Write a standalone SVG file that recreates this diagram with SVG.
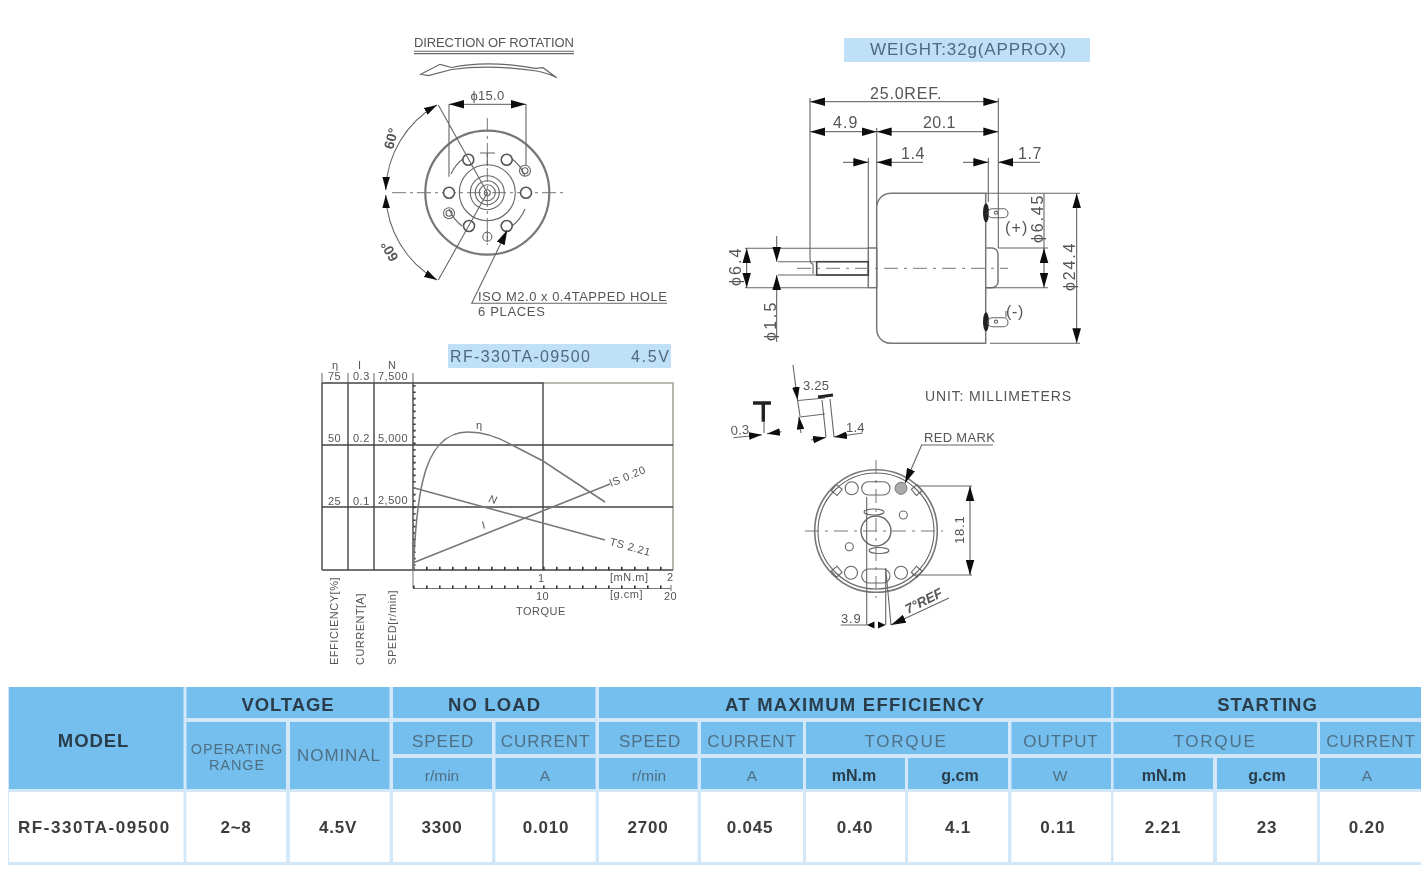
<svg xmlns="http://www.w3.org/2000/svg" width="1421" height="869" viewBox="0 0 1421 869">
<style>
text{font-family:"Liberation Sans",Arial,sans-serif;fill:#555}
.d{fill:none;stroke:#666;stroke-width:1.1}
.b{fill:none;stroke:#444;stroke-width:1.6}
.g{fill:none;stroke:#777;stroke-width:1.5}
.a{fill:none;stroke:#555;stroke-width:1;marker-end:url(#ar)}
.aa{fill:none;stroke:#555;stroke-width:1;marker-start:url(#ar);marker-end:url(#ar)}
.c{fill:none;stroke:#777;stroke-width:1;stroke-dasharray:18 5 3 5}
.l{font-size:16px;letter-spacing:.6px}
.s{font-size:11px;letter-spacing:.5px;fill:#555}
.t{font-size:13px;letter-spacing:.2px}
.h{fill:#74bfee}
.w{fill:#fff}
.th{font-size:18.5px;font-weight:bold;fill:#2b3d4b;text-anchor:middle;letter-spacing:.9px}
.tm{font-size:17px;fill:#4f6f84;text-anchor:middle;letter-spacing:.9px}
.tu{font-size:15.5px;fill:#4f6f84;text-anchor:middle}
.tb{font-size:16px;font-weight:bold;fill:#2b3d4b;text-anchor:middle}
.td{font-size:17px;font-weight:bold;fill:#3c3c3c;text-anchor:middle;letter-spacing:.8px}
.bx{fill:#bfe0f7}
</style>
<defs>
<marker id="ar" markerUnits="userSpaceOnUse" markerWidth="16" markerHeight="9" refX="15" refY="4.5" orient="auto-start-reverse"><polygon points="0,0.2 15,4.5 0,8.8" fill="#111"/></marker>
<marker id="as" markerUnits="userSpaceOnUse" markerWidth="14" markerHeight="8" refX="13" refY="4" orient="auto-start-reverse"><polygon points="0,0.2 13,4 0,7.8" fill="#111"/></marker>
<filter id="bl" x="0" y="0" width="100%" height="100%"><feGaussianBlur stdDeviation="0.55"/></filter>
</defs>
<rect width="1421" height="869" fill="#fff"/>
<g filter="url(#bl)">

<g id="front-view">
<text x="414" y="47" class="t" textLength="160">DIRECTION OF ROTATION</text>
<path class="d" d="M414 51.2H574M414 53.6H574"/>
<path d="M420.7 74.3L440 64.3L451.7 67.5Q487 60 535 68.3L543 67.7L556.7 77.7Q548 73 536.7 71Q490 64 451.7 69.5L428.3 75.7Z" fill="#fff" stroke="#666" stroke-width="1.2"/>
<circle cx="487.3" cy="192.7" r="62" class="g" style="stroke-width:2.2"/>
<path class="c" d="M392 192.7H564M487.3 118V245" style="stroke-dasharray:14 4 3 4"/>
<g class="d">
<circle cx="487.3" cy="192.7" r="17"/><circle cx="487.3" cy="192.7" r="12"/><circle cx="487.3" cy="192.7" r="8"/><circle cx="487.3" cy="192.7" r="3"/>
<circle cx="487.3" cy="192.7" r="28"/>
<path d="M451 174A41 41 0 0 1 464 158M511 158A41 41 0 0 1 525 176M525 209A41 41 0 0 1 512 226M462 226A41 41 0 0 1 449 209"/>
<path d="M487.3 153V166M480 153H495"/>
</g>
<g style="fill:#fff;stroke:#555;stroke-width:1.6">
<circle cx="468.3" cy="159.7" r="5.5"/><circle cx="506.7" cy="159.7" r="5.5"/><circle cx="449" cy="192.7" r="5.5"/><circle cx="526" cy="192.7" r="5.5"/><circle cx="469" cy="226" r="5.5"/><circle cx="506.7" cy="226" r="5.5"/>
</g>
<g class="d"><circle cx="525" cy="170.7" r="5.5"/><circle cx="525" cy="170.7" r="3"/><circle cx="449" cy="213.3" r="5.5"/><circle cx="449" cy="213.3" r="3"/><circle cx="487.3" cy="236.7" r="4.5"/><path d="M487.3 231V242"/></g>
<path class="d" d="M449 104.3V176.7M526 104.3V165M438.3 105L487.3 192.7L438.3 280"/>
<path class="aa" d="M449 104.3H526"/>
<text x="487.5" y="100" text-anchor="middle" font-size="13" style="letter-spacing:.3px">ϕ15.0</text>
<path d="M385.8 190A101 101 0 0 1 437 105" class="d" marker-start="url(#as)" marker-end="url(#as)"/>
<path d="M385.8 195A101 101 0 0 0 437 280" class="d" marker-start="url(#as)" marker-end="url(#as)"/>
<text transform="translate(393,150) rotate(-75)" font-size="14" font-weight="bold">60°</text>
<text transform="translate(399,258) rotate(-120)" font-size="14" font-weight="bold">60°</text>
<path class="d" d="M667 303.3H471.7L507.3 230" marker-end="url(#ar)"/>
<text x="478" y="301" class="t" textLength="189">ISO M2.0 x 0.4TAPPED HOLE</text>
<text x="478" y="316" class="t" textLength="67">6 PLACES</text>
</g>

<g id="weight-label">
<rect x="844" y="38" width="246" height="24" class="bx"/>
<text x="870" y="55" font-size="17" textLength="196" style="fill:#4f6a80">WEIGHT:32g(APPROX)</text>
</g>

<g id="side-view">
<path class="g" d="M891 193.3H985.7V343.3H891A14 14 0 0 1 876.7 329V207A14 14 0 0 1 891 193.3Z"/>
<path class="g" d="M985.7 248H992A6 6 0 0 1 998 254V282A6 6 0 0 1 992 287.7H985.7"/>
<rect x="868.3" y="248" width="8.4" height="39.7" class="g"/>
<path class="d" d="M745 248.3H868M745 287.7H868M778 261.7H868M778 275H868"/>
<rect x="816.7" y="261.7" width="51.6" height="13.3" class="b"/>
<path class="c" d="M797 268.3H1008" style="stroke-dasharray:14 6 3 6"/>
<path class="d" d="M810 98V258Q810 264 813 264V274M998.3 98V248M876.7 128V205M868.3 158V248M988.3 158V202"/>
<path class="aa" d="M810 101.7H998.3"/>
<path class="aa" d="M810 131.7H876.7"/>
<path class="aa" d="M876.7 131.7H998.3"/>
<path class="a" d="M843 162.3H868.3"/><path class="a" d="M923 162.3H876.7"/>
<path class="a" d="M963 162.3H988.3"/><path class="a" d="M1040 162.3H998.3"/>
<path class="aa" d="M1076.7 193.3V343.3"/>
<path class="d" d="M985.7 193.3H1080M990 343.3H1080M998 248H1048M985.7 287.7H1048M1044 193.3V248"/>
<path class="aa" d="M1044 248V287.7"/>
<path class="aa" d="M746.7 248.3V287.7"/>
<path class="a" d="M776.7 236V261.7"/><path class="a" d="M776.7 342V275"/>
<g id="terminal-plus"><ellipse cx="986" cy="212.7" rx="3" ry="9.5" fill="#222"/><rect x="988" y="208.7" width="20" height="9" rx="4.5" class="d"/><circle cx="996" cy="212.7" r="1.6" class="d"/></g>
<g id="terminal-minus"><ellipse cx="986" cy="321.7" rx="3" ry="9.5" fill="#222"/><rect x="988" y="317.7" width="20" height="9" rx="4.5" class="d"/><circle cx="996" cy="321.7" r="1.6" class="d"/><path class="d" d="M1006 317V311"/></g>
<text x="870" y="99" class="l" textLength="72">25.0REF.</text>
<text x="833" y="128" class="l" textLength="25">4.9</text>
<text x="923" y="128" class="l" textLength="33">20.1</text>
<text x="901" y="159" class="l" textLength="24">1.4</text>
<text x="1018" y="159" class="l" textLength="24">1.7</text>
<text x="1005" y="233" class="l" textLength="23">(+)</text>
<text x="1006" y="317" class="l" textLength="18">(-)</text>
<text transform="translate(1043,243) rotate(-90)" class="l" textLength="48">ϕ6.45</text>
<text transform="translate(1075,291) rotate(-90)" class="l" textLength="48">ϕ24.4</text>
<text transform="translate(741,286) rotate(-90)" class="l" textLength="38">ϕ6.4</text>
<text transform="translate(776,341) rotate(-90)" class="l" textLength="39">ϕ1.5</text>
</g>

<g id="model-label">
<rect x="448" y="344" width="223" height="24" class="bx"/>
<text x="450" y="362" font-size="16" textLength="140" style="fill:#4f6a80">RF-330TA-09500</text>
<text x="631" y="362" font-size="16" textLength="38" style="fill:#4f6a80">4.5V</text>
</g>

<g id="chart">
<path d="M543 383H673V570" fill="none" stroke="#a9a49c" stroke-width="1.6"/>
<path d="M322 383V570M348 383V570M374 383V570M413 383V570M322 383H543V570M322 570H673M322 445H673M322 507H673" fill="none" stroke="#444" stroke-width="1.4"/>
<path d="M414.5 385V570" stroke="#333" stroke-width="2.2" stroke-dasharray="1.6 4.8" fill="none"/>
<path d="M413 588.5H671" stroke="#777" stroke-width="1.1" fill="none"/>
<path d="M413 570V588M671 585V591" stroke="#777" stroke-width="1" fill="none"/>
<path d="M413 568.5H672" stroke="#333" stroke-width="3.5" stroke-dasharray="1.6 11.4" fill="none"/>
<path d="M413 587H672" stroke="#333" stroke-width="3" stroke-dasharray="1.6 11.4" fill="none"/>
<path d="M322 373V383M348 373V383M374 373V383M413 373V383" stroke="#666" fill="none"/>
<path class="g" d="M413.3 570C415 530 418 500 423 480C430 450 445 432 468 432C490 432 505 441 512 445L543 461L605 502"/>
<path class="g" d="M413.3 487.7L605 540"/>
<path class="g" d="M413.3 562.7L610 484"/>
<text x="332" y="369" class="s">η</text><text x="358" y="369" class="s">I</text><text x="388" y="369" class="s">N</text>
<text x="328" y="380" class="s">75</text><text x="353" y="380" class="s">0.3</text><text x="378" y="380" class="s">7,500</text>
<text x="328" y="442" class="s">50</text><text x="353" y="442" class="s">0.2</text><text x="378" y="442" class="s">5,000</text>
<text x="328" y="505" class="s">25</text><text x="353" y="505" class="s">0.1</text><text x="378" y="504" class="s">2,500</text>
<text x="476" y="429" class="s">η</text>
<text transform="translate(488,502) rotate(15)" class="s" font-style="italic">N</text>
<text transform="translate(483,529) rotate(-15)" class="s">I</text>
<text transform="translate(611,487) rotate(-22)" class="s">IS 0.20</text>
<text transform="translate(609,545) rotate(15)" class="s">TS 2.21</text>
<text x="538" y="582" class="s">1</text><text x="610" y="581" class="s">[mN.m]</text><text x="667" y="581" class="s">2</text>
<text x="536" y="600" class="s">10</text><text x="610" y="598" class="s">[g.cm]</text><text x="664" y="600" class="s">20</text>
<text x="516" y="615" class="s">TORQUE</text>
<text transform="translate(338,665) rotate(-90)" class="s" textLength="88">EFFICIENCY[%]</text>
<text transform="translate(364,665) rotate(-90)" class="s" textLength="72">CURRENT[A]</text>
<text transform="translate(396,665) rotate(-90)" class="s" textLength="75">SPEED[r/min]</text>
</g>

<g id="detail-view">
<path d="M753 403H771M763.300 403V421.700" stroke="#222" stroke-width="3.4" fill="none"/>
<path class="d" d="M764 422V433"/>
<path d="M733.3 437.7L762 434.7" class="d" marker-end="url(#as)"/>
<path d="M781.7 431.7L767 433.7" class="d" marker-end="url(#as)"/>
<text transform="translate(731,435) rotate(-4)" class="t">0.3</text>
<path d="M793 365L797.5 400" class="d" marker-end="url(#as)"/>
<path d="M797.5 400L800 416" class="d"/>
<path d="M801 433L799 416.5" class="d" marker-end="url(#as)"/>
<path class="d" d="M798 400.5L825 398M800 417L825 414M822 400L826 437M830 399L834 437"/>
<path d="M818 397L833 395" stroke="#222" stroke-width="3.2" fill="none"/>
<path d="M811 440L826 437.5" class="d" marker-end="url(#as)"/>
<path d="M863 433L834 437" class="d" marker-end="url(#as)"/>
<text x="803" y="390" class="t">3.25</text>
<text x="846" y="432" class="t">1.4</text>
</g>

<g id="unit-label"><text x="925" y="401" font-size="14" textLength="146">UNIT: MILLIMETERS</text></g>

<g id="rear-view">
<circle cx="876" cy="531" r="61.3" class="g" style="stroke-width:1.6"/>
<circle cx="876" cy="531" r="58" class="d"/>
<path class="c" d="M805 531H943M876 460V598" style="stroke-dasharray:14 6 3 6"/>
<circle cx="876" cy="531" r="15" class="d" style="stroke-width:1.4"/>
<rect x="861.7" y="481.7" width="28.3" height="13.3" rx="6.6" class="d"/>
<rect x="861.7" y="569" width="28.3" height="14" rx="7" class="d"/>
<circle cx="851.7" cy="488.3" r="6.5" class="d"/>
<circle cx="901" cy="488.3" r="6" fill="#aaa" stroke="#777"/>
<circle cx="851" cy="572.7" r="6.5" class="d"/>
<circle cx="901" cy="572.7" r="6.5" class="d"/>
<rect x="833" y="486" width="7.5" height="8" transform="rotate(40 836.7 490)" class="d"/>
<rect x="913" y="486" width="7.5" height="8" transform="rotate(-40 916.7 490)" class="d"/>
<rect x="833" y="567.7" width="7.5" height="8" transform="rotate(-40 836.7 571.7)" class="d"/>
<rect x="913" y="567.7" width="7.5" height="8" transform="rotate(40 916.7 571.7)" class="d"/>
<ellipse cx="874" cy="512" rx="10" ry="3" class="d"/>
<ellipse cx="879" cy="550.5" rx="10" ry="3" class="d"/>
<circle cx="903.3" cy="515" r="4" class="d"/>
<circle cx="849.3" cy="546.7" r="4" class="d"/>
<path d="M993 445H921.7L905 483.3" class="d" marker-end="url(#ar)"/>
<text x="924" y="442" class="t" textLength="71">RED MARK</text>
<path class="d" d="M918 486H972M912 575H972M866.7 497V625M885.7 568V625M885.7 568L891 625M840.7 625H866.7"/>
<path class="aa" d="M970 486V575"/>
<text transform="translate(964,544) rotate(-90)" class="t" textLength="28">18.1</text>
<text x="841" y="623" class="t" textLength="20">3.9</text>
<polygon points="866.700,625 874.500,621.500 874.500,628.500" fill="#111"/>
<polygon points="885.700,625 878,621.500 878,628.500" fill="#111"/>
<path d="M949 598L891 625" class="d" marker-end="url(#ar)"/>
<text transform="translate(908,614) rotate(-27)" font-size="13.5" font-weight="bold" font-style="italic">7°REF</text>
</g>

<g id="spec-table">
<rect x="8" y="687" width="1413" height="178" fill="#d2e8f8"/>
<g class="h">
<rect x="9" y="687" width="174.5" height="102"/>
<rect x="186.500" y="687" width="203" height="31"/><rect x="393" y="687" width="202.500" height="31"/><rect x="599" y="687" width="512" height="31"/><rect x="1113.500" y="687" width="307.500" height="31"/>
<rect x="186.500" y="722" width="99.500" height="67"/><rect x="290" y="722" width="99.500" height="67"/>
<rect x="393" y="722" width="99" height="32"/><rect x="495.500" y="722" width="100" height="32"/><rect x="599" y="722" width="98.500" height="32"/><rect x="701" y="722" width="102" height="32"/><rect x="806" y="722" width="202" height="32"/><rect x="1011.500" y="722" width="99.500" height="32"/><rect x="1113.500" y="722" width="203.500" height="32"/><rect x="1320" y="722" width="101" height="32"/>
<rect x="393" y="758" width="99" height="31"/><rect x="495.500" y="758" width="100" height="31"/><rect x="599" y="758" width="98.500" height="31"/><rect x="701" y="758" width="102" height="31"/><rect x="806" y="758" width="99" height="31"/><rect x="908" y="758" width="100" height="31"/><rect x="1011.500" y="758" width="99.500" height="31"/><rect x="1113.500" y="758" width="99.500" height="31"/><rect x="1217" y="758" width="100" height="31"/><rect x="1320" y="758" width="101" height="31"/>
</g>
<g class="w">
<rect x="9" y="792" width="174.5" height="70"/><rect x="186.500" y="792" width="99.500" height="70"/><rect x="290" y="792" width="99.500" height="70"/><rect x="393" y="792" width="99" height="70"/><rect x="495.500" y="792" width="100" height="70"/><rect x="599" y="792" width="98.500" height="70"/><rect x="701" y="792" width="102" height="70"/><rect x="806" y="792" width="99" height="70"/><rect x="908" y="792" width="100" height="70"/><rect x="1011.500" y="792" width="99.500" height="70"/><rect x="1113.500" y="792" width="99.500" height="70"/><rect x="1217" y="792" width="100" height="70"/><rect x="1320" y="792" width="101" height="70"/>
</g>
<text x="93.500" y="747" class="th">MODEL</text>
<text x="288" y="711" class="th">VOLTAGE</text><text x="494.500" y="711" class="th" textLength="93">NO LOAD</text><text x="855" y="711" class="th" textLength="260">AT MAXIMUM EFFICIENCY</text><text x="1267.500" y="711" class="th">STARTING</text>
<text x="237" y="754" class="tm" style="font-size:14.500px">OPERATING</text><text x="237" y="770" class="tm" style="font-size:14.500px">RANGE</text>
<text x="339" y="761" class="tm">NOMINAL</text>
<text x="443" y="747" class="tm">SPEED</text><text x="545.500" y="747" class="tm">CURRENT</text><text x="650" y="747" class="tm">SPEED</text><text x="752" y="747" class="tm">CURRENT</text><text x="906" y="747" class="tm" style="letter-spacing:1.800px">TORQUE</text><text x="1061" y="747" class="tm">OUTPUT</text><text x="1215" y="747" class="tm" style="letter-spacing:1.800px">TORQUE</text><text x="1371" y="747" class="tm">CURRENT</text>
<text x="442" y="781" class="tu">r/min</text><text x="545" y="781" class="tu">A</text><text x="649" y="781" class="tu">r/min</text><text x="752" y="781" class="tu">A</text><text x="854" y="781" class="tb">mN.m</text><text x="960" y="781" class="tb">g.cm</text><text x="1060" y="781" class="tu">W</text><text x="1164" y="781" class="tb">mN.m</text><text x="1267" y="781" class="tb">g.cm</text><text x="1367" y="781" class="tu">A</text>
<text x="94" y="833" class="td" textLength="152">RF-330TA-09500</text><text x="236" y="833" class="td">2~8</text><text x="338" y="833" class="td">4.5V</text><text x="442" y="833" class="td">3300</text><text x="546" y="833" class="td">0.010</text><text x="648" y="833" class="td">2700</text><text x="750" y="833" class="td">0.045</text><text x="855" y="833" class="td">0.40</text><text x="958" y="833" class="td">4.1</text><text x="1058" y="833" class="td">0.11</text><text x="1163" y="833" class="td">2.21</text><text x="1267" y="833" class="td">23</text><text x="1367" y="833" class="td">0.20</text>
</g>
</g>
</svg>
